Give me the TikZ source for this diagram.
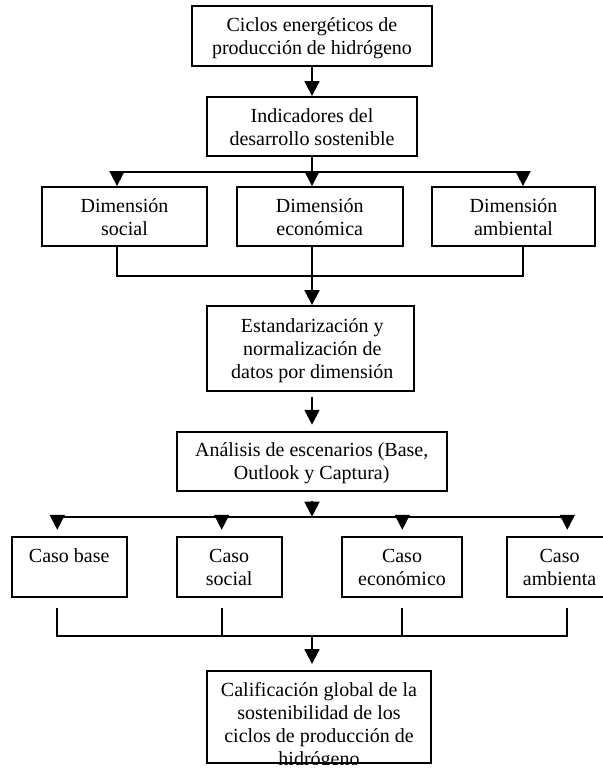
\documentclass[tikz,border=0pt]{standalone}
\usepackage{fontspec}
\setmainfont{Liberation Serif}
\usetikzlibrary{arrows.meta}
\begin{document}
\begin{tikzpicture}[x=1pt,y=-1pt,
  bx/.style={draw, line width=1.8pt, inner sep=0pt, rectangle},
  lbl/.style={anchor=north, inner sep=0pt, align=center, font=\fontsize{20pt}{23pt}\selectfont},
  ln/.style={line width=1.8pt},
  arr/.style={ln, -{Triangle[length=15pt,width=15pt]}}]
\useasboundingbox (0,0) rectangle (603,772);
\clip (0,0) rectangle (603,772);

% boxes
\node[bx, minimum width=240pt, minimum height=60pt] (n1) at (312,36) {};
\node[bx, minimum width=210pt, minimum height=59pt] (n2) at (312,126.5) {};
\node[bx, minimum width=165pt, minimum height=59pt] (ds) at (124.5,216.5) {};
\node[bx, minimum width=166pt, minimum height=59pt] (de) at (319.7,216.5) {};
\node[bx, minimum width=163pt, minimum height=59pt] (da) at (513.5,216.5) {};
\node[bx, minimum width=207pt, minimum height=85pt] (est) at (310.3,348.5) {};
\node[bx, minimum width=270pt, minimum height=59.3pt] (an) at (311.7,461.3) {};
\node[bx, minimum width=115pt, minimum height=60pt] (cb) at (69.2,566.7) {};
\node[bx, minimum width=105pt, minimum height=60pt] (cs) at (229.2,566.7) {};
\node[bx, minimum width=120pt, minimum height=60pt] (ce) at (402,566.7) {};
\node[bx, minimum width=105.2pt, minimum height=60pt] (ca) at (559.6,566.7) {};
\node[bx, minimum width=224pt, minimum height=92.6pt] (fin) at (319,717) {};

% texts
\node[lbl] (n1t) at ([yshift=-10pt]n1.north) {\rule{0pt}{16pt}Ciclos energéticos de\\producción de hidrógeno};
\node[lbl] (n2t) at ([yshift=-10pt]n2.north) {\rule{0pt}{16pt}Indicadores del\\desarrollo sostenible};
\node[lbl] (dst) at ([yshift=-10pt]ds.north) {\rule{0pt}{16pt}Dimensión\\social};
\node[lbl] (det) at ([yshift=-10pt]de.north) {\rule{0pt}{16pt}Dimensión\\económica};
\node[lbl] (dat) at ([yshift=-10pt]da.north) {\rule{0pt}{16pt}Dimensión\\ambiental};
\node[lbl] (estt) at ([xshift=2pt,yshift=-11pt]est.north) {\rule{0pt}{16pt}Estandarización y\\normalización de\\datos por dimensión};
\node[lbl] (ant) at ([yshift=-10pt]an.north) {\rule{0pt}{16pt}Análisis de escenarios (Base,\\Outlook y Captura)};
\node[lbl] (cbt) at ([yshift=-10pt]cb.north) {\rule{0pt}{16pt}Caso base};
\node[lbl] (cst) at ([yshift=-10pt]cs.north) {\rule{0pt}{16pt}Caso\\social};
\node[lbl] (cet) at ([yshift=-10pt]ce.north) {\rule{0pt}{16pt}Caso\\económico};
\node[lbl] (cat) at ([yshift=-10pt]ca.north) {\rule{0pt}{16pt}Caso\\ambienta};
\begin{scope}
  \clip (fin.north west) rectangle (fin.south east);
  \node[lbl] (fint) at ([yshift=-10pt]fin.north) {\rule{0pt}{16pt}Calificación global de la\\sostenibilidad de los\\ciclos de producción de\\hidrógeno};
\end{scope}

% junction points
\coordinate (j1) at (312,172);
\coordinate (j1l) at (117,172);
\coordinate (j1r) at (523,172);
\coordinate (j2l) at (117,276);
\coordinate (j2) at (312,276);
\coordinate (j2r) at (523,276);
\coordinate (j3) at (312,516.7);
\coordinate (j3a) at (57.3,516.7);
\coordinate (j3b) at (221.7,516.7);
\coordinate (j3c) at (402.3,516.7);
\coordinate (j3d) at (567.3,516.7);
\coordinate (j4) at (312,636);
\coordinate (j4a) at (57.3,636);
\coordinate (j4b) at (221.7,636);
\coordinate (j4c) at (402.3,636);
\coordinate (j4d) at (567.3,636);

% connectors
\draw[arr] (n1.south) -- (n2.north);
\draw[ln] (n2.south) -- (j1);
\draw[ln] (j1l) -- (j1r);
\draw[arr] (j1l) -- (j1l |- ds.north);
\draw[arr] (j1) -- (j1 |- de.north);
\draw[arr] (j1r) -- (j1r |- da.north);
\draw[ln] (j2l |- ds.south) -- (j2l) -- (j2r) -- (j2r |- da.south);
\draw[arr] (j2 |- de.south) -- (j2 |- est.north);
\draw[arr, shorten <=5pt, shorten >=6pt] (j2 |- est.south) -- (j2 |- an.north);
\draw[arr, shorten <=9pt] (j3 |- an.south) -- (j3);
\draw[ln] (j3a) -- (j3d);
\draw[arr, shorten >=6pt] (j3a) -- (j3a |- cb.north);
\draw[arr, shorten >=6pt] (j3b) -- (j3b |- cs.north);
\draw[arr, shorten >=6pt] (j3c) -- (j3c |- ce.north);
\draw[arr, shorten >=6pt] (j3d) -- (j3d |- ca.north);
\draw[ln, shorten <=10pt, shorten >=10pt] (j4a |- cb.south) -- (j4a) -- (j4d) -- (j4d |- ca.south);
\draw[ln, shorten <=10pt] (j4b |- cs.south) -- (j4b);
\draw[ln, shorten <=10pt] (j4c |- ce.south) -- (j4c);
\draw[arr, shorten >=5.7pt] (j4) -- (j4 |- fin.north);
\end{tikzpicture}
\end{document}
